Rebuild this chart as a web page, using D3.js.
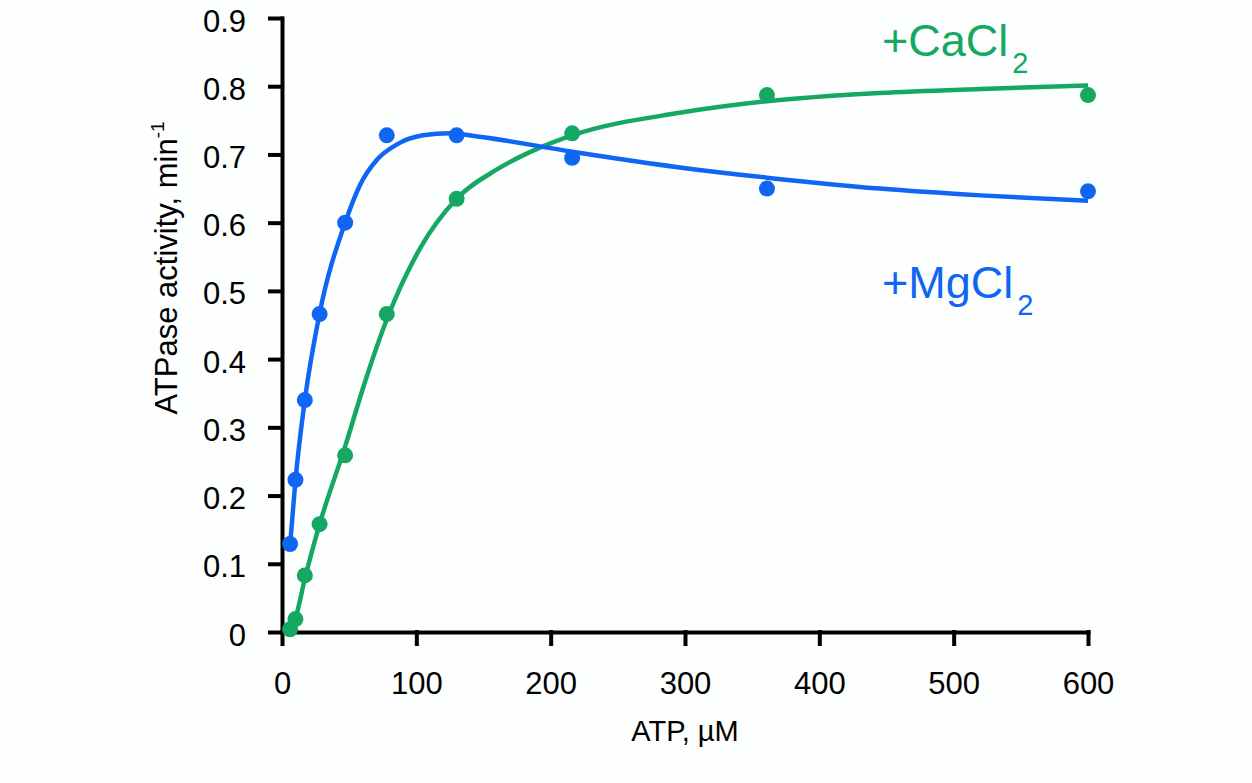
<!DOCTYPE html>
<html>
<head>
<meta charset="utf-8">
<script src="https://cdn.jsdelivr.net/npm/d3@7"></script>
<style>
  html, body { margin: 0; padding: 0; background: #fdfefe; }
  svg text { font-family: "Liberation Sans", Arial, Helvetica, sans-serif; }
</style>
</head>
<body>
<svg id="chart"></svg>
<script>
// ATP concentrations (µM)
const atp = [6, 10, 17, 28, 47, 78, 130, 216, 361, 600];
// measured activities (min-1)
const mgPoints = [0.129, 0.223, 0.340, 0.466, 0.600, 0.728, 0.728, 0.695, 0.650, 0.646];
const caPoints = [0.004, 0.019, 0.083, 0.158, 0.259, 0.466, 0.635, 0.731, 0.787, 0.787];

// fitted curves
const mgFitX = [6, 10, 17, 28, 47, 58, 71, 85, 105, 125, 147, 216, 296, 361, 445, 520, 600];
const mgFitY = [0.127, 0.222, 0.340, 0.467, 0.600, 0.655, 0.693, 0.714, 0.728, 0.731, 0.726, 0.704, 0.681, 0.666, 0.650, 0.640, 0.632];
const caFitX = [4, 10, 17, 28, 47, 62, 78, 103, 130, 160, 192, 216, 296, 361, 445, 520, 600];
const caFitY = [0.0, 0.02, 0.078, 0.158, 0.272, 0.368, 0.458, 0.563, 0.635, 0.678, 0.71, 0.728, 0.761, 0.778, 0.79, 0.796, 0.801];

const xTicks = [0, 100, 200, 300, 400, 500, 600];
const yTicks = [0, 0.1, 0.2, 0.3, 0.4, 0.5, 0.6, 0.7, 0.8, 0.9];

const blue = "#0f66f4";
const green = "#14a862";

const width = 1252, height = 783;
const svg = d3.select("#chart").attr("width", width).attr("height", height);

const x = d3.scaleLinear().domain([0, 600]).range([282, 1088]);
const y = d3.scaleLinear().domain([0, 0.9]).range([632, 18]);

// axes
const xAxis = svg.append("g")
    .attr("transform", `translate(0,${y(0)})`)
    .call(d3.axisBottom(x).tickValues(xTicks).tickSize(12).tickSizeOuter(0).tickPadding(28)
        .tickFormat(d3.format("d")));

const yAxis = svg.append("g")
    .attr("transform", `translate(${x(0)},0)`)
    .call(d3.axisLeft(y).tickValues(yTicks).tickSize(12).tickSizeOuter(0).tickPadding(24)
        .tickFormat(d => d === 0 ? "0" : d3.format(".1f")(d)));

svg.selectAll(".domain, .tick line")
    .attr("stroke", "#000")
    .attr("stroke-width", 4)
    .attr("stroke-linecap", "square");

svg.selectAll(".tick text")
    .attr("fill", "#000")
    .attr("font-size", 31);
yAxis.selectAll(".tick text").attr("dy", "0.42em");

// axis titles
svg.append("text")
    .attr("x", 685)
    .attr("y", 741)
    .attr("text-anchor", "middle")
    .attr("font-size", 29)
    .text("ATP, µM");

const yt = svg.append("text")
    .attr("transform", "translate(177,268) rotate(-90)")
    .attr("text-anchor", "middle")
    .attr("font-size", 31);
yt.append("tspan").text("ATPase activity, min");
yt.append("tspan").attr("font-size", 19).attr("dy", -13).text("-1");

// fit lines
const line = d3.line()
    .x(d => x(d[0]))
    .y(d => y(d[1]))
    .curve(d3.curveMonotoneX);

svg.append("path")
    .datum(d3.zip(caFitX, caFitY))
    .attr("fill", "none")
    .attr("stroke", green)
    .attr("stroke-width", 4.5)
    .attr("d", line);

svg.append("path")
    .datum(d3.zip(mgFitX, mgFitY))
    .attr("fill", "none")
    .attr("stroke", blue)
    .attr("stroke-width", 4.5)
    .attr("d", line);

// data points
svg.append("g").selectAll("circle")
    .data(d3.zip(atp, caPoints))
    .join("circle")
    .attr("cx", d => x(d[0]))
    .attr("cy", d => y(d[1]))
    .attr("r", 8)
    .attr("fill", green);

svg.append("g").selectAll("circle")
    .data(d3.zip(atp, mgPoints))
    .join("circle")
    .attr("cx", d => x(d[0]))
    .attr("cy", d => y(d[1]))
    .attr("r", 8)
    .attr("fill", blue);

// series labels
function label(xp, yp, name, color) {
    const t = svg.append("text")
        .attr("x", xp)
        .attr("y", yp)
        .attr("fill", color)
        .attr("font-size", 45);
    t.append("tspan").text(name);
    t.append("tspan").attr("font-size", 29).attr("dx", 4).attr("dy", 17).text("2");
}
label(882, 56, "+CaCl", green);
label(882, 298, "+MgCl", blue);
</script>
</body>
</html>
